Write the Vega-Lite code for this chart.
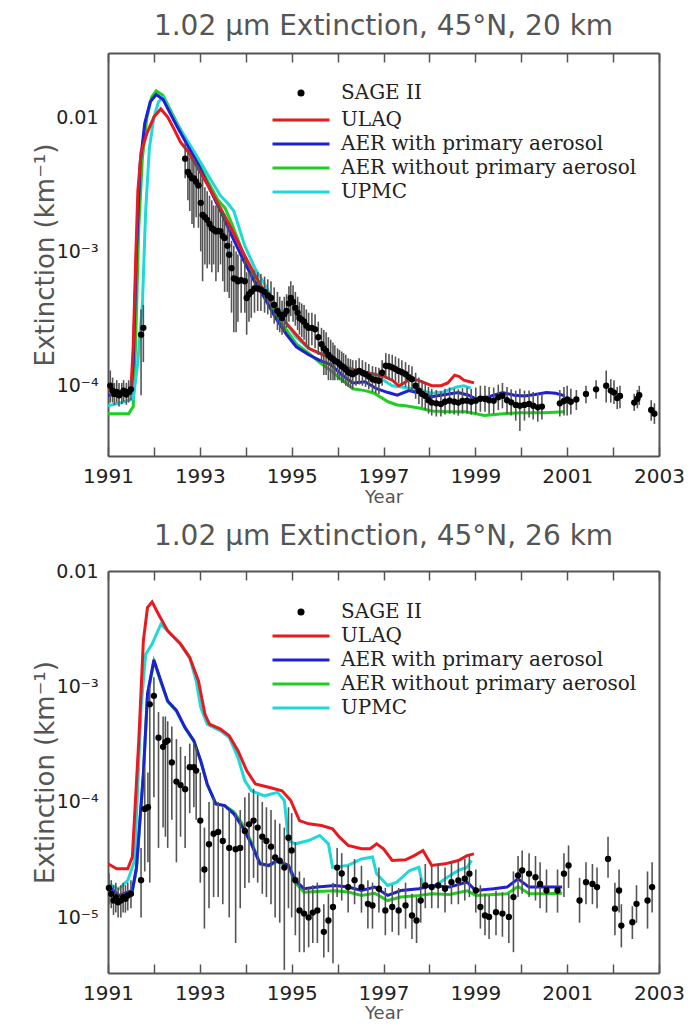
{
"$schema": "https://vega.github.io/schema/vega-lite/v6.json",
"padding": {"left": 32, "top": 13, "right": 4, "bottom": 0},
"spacing": 17,
"datasets": {
"s20": [
{"s":"SAGE II","t":1991.05,"v":1.0e-4,"lo":7.5e-5,"hi":1.3e-4},
{"s":"SAGE II","t":1991.10,"v":9.2e-5,"lo":7.5e-5,"hi":1.15e-4},
{"s":"SAGE II","t":1991.14,"v":8.7e-5,"lo":7.2e-5,"hi":1.05e-4},
{"s":"SAGE II","t":1991.19,"v":9.0e-5,"lo":7.5e-5,"hi":1.1e-4},
{"s":"SAGE II","t":1991.24,"v":8.5e-5,"lo":7.0e-5,"hi":1.05e-4},
{"s":"SAGE II","t":1991.30,"v":8.8e-5,"lo":7.3e-5,"hi":1.05e-4},
{"s":"SAGE II","t":1991.34,"v":9.2e-5,"lo":7.6e-5,"hi":1.1e-4},
{"s":"SAGE II","t":1991.40,"v":8.6e-5,"lo":7.2e-5,"hi":1.05e-4},
{"s":"SAGE II","t":1991.45,"v":9.0e-5,"lo":7.5e-5,"hi":1.1e-4},
{"s":"SAGE II","t":1991.50,"v":9.4e-5,"lo":7.8e-5,"hi":1.12e-4},
{"s":"SAGE II","t":1991.72,"v":2.4e-4,"lo":8.5e-5,"hi":3.7e-4},
{"s":"SAGE II","t":1991.77,"v":2.7e-4,"lo":1.5e-4,"hi":4.0e-4},
{"s":"SAGE II","t":1992.68,"v":4.9e-3,"lo":3.5e-3,"hi":6.5e-3},
{"s":"SAGE II","t":1992.74,"v":3.9e-3,"lo":2.4e-3,"hi":5.5e-3},
{"s":"SAGE II","t":1992.78,"v":3.7e-3,"lo":2.0e-3,"hi":5.0e-3},
{"s":"SAGE II","t":1992.83,"v":3.5e-3,"lo":1.6e-3,"hi":5.0e-3},
{"s":"SAGE II","t":1992.87,"v":3.5e-3,"lo":1.5e-3,"hi":4.8e-3},
{"s":"SAGE II","t":1992.92,"v":3.3e-3,"lo":1.8e-3,"hi":4.5e-3},
{"s":"SAGE II","t":1992.97,"v":3.1e-3,"lo":1.5e-3,"hi":4.3e-3},
{"s":"SAGE II","t":1993.02,"v":2.3e-3,"lo":1.0e-3,"hi":3.8e-3},
{"s":"SAGE II","t":1993.06,"v":1.87e-3,"lo":6.0e-4,"hi":3.5e-3},
{"s":"SAGE II","t":1993.11,"v":1.8e-3,"lo":8.0e-4,"hi":3.0e-3},
{"s":"SAGE II","t":1993.16,"v":1.72e-3,"lo":7.5e-4,"hi":2.8e-3},
{"s":"SAGE II","t":1993.21,"v":1.6e-3,"lo":8.0e-4,"hi":2.6e-3},
{"s":"SAGE II","t":1993.26,"v":1.49e-3,"lo":7.0e-4,"hi":2.4e-3},
{"s":"SAGE II","t":1993.30,"v":1.45e-3,"lo":8.0e-4,"hi":2.2e-3},
{"s":"SAGE II","t":1993.35,"v":1.41e-3,"lo":6.0e-4,"hi":2.2e-3},
{"s":"SAGE II","t":1993.40,"v":1.42e-3,"lo":7.0e-4,"hi":2.2e-3},
{"s":"SAGE II","t":1993.45,"v":1.41e-3,"lo":8.0e-4,"hi":2.0e-3},
{"s":"SAGE II","t":1993.50,"v":1.3e-3,"lo":6.0e-4,"hi":2.0e-3},
{"s":"SAGE II","t":1993.54,"v":1.26e-3,"lo":5.0e-4,"hi":1.9e-3},
{"s":"SAGE II","t":1993.60,"v":1.1e-3,"lo":5.0e-4,"hi":1.6e-3},
{"s":"SAGE II","t":1993.64,"v":9.45e-4,"lo":4.5e-4,"hi":1.5e-3},
{"s":"SAGE II","t":1993.69,"v":7.5e-4,"lo":3.5e-4,"hi":1.2e-3},
{"s":"SAGE II","t":1993.74,"v":6.3e-4,"lo":2.5e-4,"hi":1.1e-3},
{"s":"SAGE II","t":1993.79,"v":6.2e-4,"lo":2.5e-4,"hi":1.0e-3},
{"s":"SAGE II","t":1993.83,"v":6.0e-4,"lo":3.0e-4,"hi":9.5e-4},
{"s":"SAGE II","t":1993.90,"v":6.1e-4,"lo":3.5e-4,"hi":9.0e-4},
{"s":"SAGE II","t":1993.98,"v":6.0e-4,"lo":3.5e-4,"hi":9.0e-4},
{"s":"SAGE II","t":1994.02,"v":4.5e-4,"lo":2.4e-4,"hi":7.0e-4},
{"s":"SAGE II","t":1994.07,"v":4.8e-4,"lo":3.0e-4,"hi":7.0e-4},
{"s":"SAGE II","t":1994.12,"v":5.0e-4,"lo":3.2e-4,"hi":7.0e-4},
{"s":"SAGE II","t":1994.19,"v":5.3e-4,"lo":3.5e-4,"hi":7.2e-4},
{"s":"SAGE II","t":1994.26,"v":5.3e-4,"lo":3.6e-4,"hi":7.0e-4},
{"s":"SAGE II","t":1994.33,"v":5.2e-4,"lo":3.6e-4,"hi":6.8e-4},
{"s":"SAGE II","t":1994.41,"v":5.0e-4,"lo":3.5e-4,"hi":6.5e-4},
{"s":"SAGE II","t":1994.48,"v":4.7e-4,"lo":3.4e-4,"hi":6.2e-4},
{"s":"SAGE II","t":1994.55,"v":4.5e-4,"lo":3.2e-4,"hi":6.0e-4},
{"s":"SAGE II","t":1994.62,"v":4.0e-4,"lo":2.9e-4,"hi":5.4e-4},
{"s":"SAGE II","t":1994.69,"v":3.6e-4,"lo":2.6e-4,"hi":5.0e-4},
{"s":"SAGE II","t":1994.74,"v":3.4e-4,"lo":2.5e-4,"hi":4.6e-4},
{"s":"SAGE II","t":1994.79,"v":3.2e-4,"lo":2.4e-4,"hi":4.3e-4},
{"s":"SAGE II","t":1994.84,"v":3.4e-4,"lo":2.5e-4,"hi":4.6e-4},
{"s":"SAGE II","t":1994.89,"v":3.6e-4,"lo":2.7e-4,"hi":4.8e-4},
{"s":"SAGE II","t":1994.94,"v":4.1e-4,"lo":3.0e-4,"hi":5.5e-4},
{"s":"SAGE II","t":1994.98,"v":4.5e-4,"lo":3.3e-4,"hi":6.0e-4},
{"s":"SAGE II","t":1995.03,"v":4.2e-4,"lo":3.0e-4,"hi":5.6e-4},
{"s":"SAGE II","t":1995.08,"v":3.8e-4,"lo":2.8e-4,"hi":5.0e-4},
{"s":"SAGE II","t":1995.13,"v":3.5e-4,"lo":2.6e-4,"hi":4.6e-4},
{"s":"SAGE II","t":1995.17,"v":3.2e-4,"lo":2.4e-4,"hi":4.2e-4},
{"s":"SAGE II","t":1995.22,"v":3.1e-4,"lo":2.3e-4,"hi":4.1e-4},
{"s":"SAGE II","t":1995.27,"v":3.0e-4,"lo":2.2e-4,"hi":4.0e-4},
{"s":"SAGE II","t":1995.32,"v":2.8e-4,"lo":2.0e-4,"hi":3.7e-4},
{"s":"SAGE II","t":1995.37,"v":2.7e-4,"lo":1.9e-4,"hi":3.5e-4},
{"s":"SAGE II","t":1995.44,"v":2.7e-4,"lo":2.0e-4,"hi":3.5e-4},
{"s":"SAGE II","t":1995.51,"v":2.63e-4,"lo":1.9e-4,"hi":3.4e-4},
{"s":"SAGE II","t":1995.58,"v":2.3e-4,"lo":1.7e-4,"hi":3.0e-4},
{"s":"SAGE II","t":1995.65,"v":2.04e-4,"lo":1.5e-4,"hi":2.7e-4},
{"s":"SAGE II","t":1995.70,"v":1.9e-4,"lo":1.2e-4,"hi":2.6e-4},
{"s":"SAGE II","t":1995.75,"v":1.82e-4,"lo":1.2e-4,"hi":2.5e-4},
{"s":"SAGE II","t":1995.80,"v":1.7e-4,"lo":1.1e-4,"hi":2.3e-4},
{"s":"SAGE II","t":1995.85,"v":1.62e-4,"lo":1.1e-4,"hi":2.2e-4},
{"s":"SAGE II","t":1995.90,"v":1.58e-4,"lo":1.1e-4,"hi":2.1e-4},
{"s":"SAGE II","t":1995.94,"v":1.53e-4,"lo":1.1e-4,"hi":2.0e-4},
{"s":"SAGE II","t":1996.00,"v":1.5e-4,"lo":1.1e-4,"hi":1.9e-4},
{"s":"SAGE II","t":1996.04,"v":1.45e-4,"lo":1.1e-4,"hi":1.85e-4},
{"s":"SAGE II","t":1996.09,"v":1.4e-4,"lo":1.05e-4,"hi":1.8e-4},
{"s":"SAGE II","t":1996.13,"v":1.37e-4,"lo":1.05e-4,"hi":1.75e-4},
{"s":"SAGE II","t":1996.18,"v":1.32e-4,"lo":1.0e-4,"hi":1.7e-4},
{"s":"SAGE II","t":1996.23,"v":1.26e-4,"lo":9.8e-5,"hi":1.6e-4},
{"s":"SAGE II","t":1996.28,"v":1.24e-4,"lo":9.6e-5,"hi":1.58e-4},
{"s":"SAGE II","t":1996.33,"v":1.22e-4,"lo":9.5e-5,"hi":1.55e-4},
{"s":"SAGE II","t":1996.40,"v":1.26e-4,"lo":1.0e-4,"hi":1.55e-4},
{"s":"SAGE II","t":1996.47,"v":1.29e-4,"lo":1.02e-4,"hi":1.6e-4},
{"s":"SAGE II","t":1996.54,"v":1.25e-4,"lo":1.0e-4,"hi":1.55e-4},
{"s":"SAGE II","t":1996.61,"v":1.22e-4,"lo":9.8e-5,"hi":1.5e-4},
{"s":"SAGE II","t":1996.68,"v":1.17e-4,"lo":9.4e-5,"hi":1.45e-4},
{"s":"SAGE II","t":1996.76,"v":1.12e-4,"lo":9.0e-5,"hi":1.4e-4},
{"s":"SAGE II","t":1996.83,"v":1.1e-4,"lo":8.8e-5,"hi":1.38e-4},
{"s":"SAGE II","t":1996.90,"v":1.09e-4,"lo":8.7e-5,"hi":1.36e-4},
{"s":"SAGE II","t":1996.97,"v":1.25e-4,"lo":1.0e-4,"hi":1.55e-4},
{"s":"SAGE II","t":1997.05,"v":1.41e-4,"lo":1.13e-4,"hi":1.75e-4},
{"s":"SAGE II","t":1997.12,"v":1.4e-4,"lo":1.12e-4,"hi":1.72e-4},
{"s":"SAGE II","t":1997.19,"v":1.37e-4,"lo":1.1e-4,"hi":1.7e-4},
{"s":"SAGE II","t":1997.26,"v":1.33e-4,"lo":1.07e-4,"hi":1.65e-4},
{"s":"SAGE II","t":1997.33,"v":1.29e-4,"lo":1.04e-4,"hi":1.6e-4},
{"s":"SAGE II","t":1997.40,"v":1.26e-4,"lo":1.0e-4,"hi":1.55e-4},
{"s":"SAGE II","t":1997.48,"v":1.22e-4,"lo":9.8e-5,"hi":1.5e-4},
{"s":"SAGE II","t":1997.55,"v":1.16e-4,"lo":9.3e-5,"hi":1.43e-4},
{"s":"SAGE II","t":1997.62,"v":1.12e-4,"lo":9.0e-5,"hi":1.4e-4},
{"s":"SAGE II","t":1997.70,"v":1.0e-4,"lo":8.0e-5,"hi":1.25e-4},
{"s":"SAGE II","t":1997.77,"v":9.2e-5,"lo":7.3e-5,"hi":1.15e-4},
{"s":"SAGE II","t":1997.84,"v":8.7e-5,"lo":6.9e-5,"hi":1.1e-4},
{"s":"SAGE II","t":1997.91,"v":8.4e-5,"lo":6.6e-5,"hi":1.05e-4},
{"s":"SAGE II","t":1997.98,"v":7.8e-5,"lo":6.2e-5,"hi":9.8e-5},
{"s":"SAGE II","t":1998.05,"v":7.5e-5,"lo":6.0e-5,"hi":9.5e-5},
{"s":"SAGE II","t":1998.15,"v":7.4e-5,"lo":5.9e-5,"hi":9.3e-5},
{"s":"SAGE II","t":1998.25,"v":7.3e-5,"lo":5.9e-5,"hi":9.1e-5},
{"s":"SAGE II","t":1998.34,"v":7.6e-5,"lo":6.1e-5,"hi":9.5e-5},
{"s":"SAGE II","t":1998.44,"v":7.75e-5,"lo":6.2e-5,"hi":9.7e-5},
{"s":"SAGE II","t":1998.54,"v":7.6e-5,"lo":6.1e-5,"hi":9.5e-5},
{"s":"SAGE II","t":1998.63,"v":7.5e-5,"lo":6.0e-5,"hi":9.4e-5},
{"s":"SAGE II","t":1998.72,"v":7.7e-5,"lo":6.2e-5,"hi":9.6e-5},
{"s":"SAGE II","t":1998.82,"v":7.75e-5,"lo":6.2e-5,"hi":9.7e-5},
{"s":"SAGE II","t":1998.91,"v":7.6e-5,"lo":6.1e-5,"hi":9.5e-5},
{"s":"SAGE II","t":1999.01,"v":7.75e-5,"lo":6.2e-5,"hi":9.7e-5},
{"s":"SAGE II","t":1999.11,"v":8.0e-5,"lo":6.4e-5,"hi":1.0e-4},
{"s":"SAGE II","t":1999.21,"v":7.97e-5,"lo":6.4e-5,"hi":1.0e-4},
{"s":"SAGE II","t":1999.30,"v":7.8e-5,"lo":6.2e-5,"hi":9.8e-5},
{"s":"SAGE II","t":1999.40,"v":7.75e-5,"lo":6.2e-5,"hi":9.7e-5},
{"s":"SAGE II","t":1999.50,"v":8.2e-5,"lo":6.6e-5,"hi":1.02e-4},
{"s":"SAGE II","t":1999.59,"v":8.43e-5,"lo":6.8e-5,"hi":1.05e-4},
{"s":"SAGE II","t":1999.69,"v":7.8e-5,"lo":6.2e-5,"hi":9.8e-5},
{"s":"SAGE II","t":1999.78,"v":7.53e-5,"lo":6.0e-5,"hi":9.4e-5},
{"s":"SAGE II","t":1999.88,"v":7.2e-5,"lo":5.5e-5,"hi":9.2e-5},
{"s":"SAGE II","t":1999.97,"v":7.11e-5,"lo":4.6e-5,"hi":9.5e-5},
{"s":"SAGE II","t":2000.07,"v":7.2e-5,"lo":5.5e-5,"hi":9.2e-5},
{"s":"SAGE II","t":2000.17,"v":7.32e-5,"lo":5.8e-5,"hi":9.2e-5},
{"s":"SAGE II","t":2000.26,"v":7.1e-5,"lo":5.6e-5,"hi":9.0e-5},
{"s":"SAGE II","t":2000.36,"v":6.91e-5,"lo":5.4e-5,"hi":8.8e-5},
{"s":"SAGE II","t":2000.45,"v":7.0e-5,"lo":5.6e-5,"hi":8.8e-5},
{"s":"SAGE II","t":2000.84,"v":7.4e-5,"lo":5.9e-5,"hi":9.3e-5},
{"s":"SAGE II","t":2000.93,"v":7.7e-5,"lo":6.0e-5,"hi":9.8e-5},
{"s":"SAGE II","t":2001.00,"v":7.9e-5,"lo":6.0e-5,"hi":1.0e-4},
{"s":"SAGE II","t":2001.08,"v":7.6e-5,"lo":6.1e-5,"hi":9.5e-5},
{"s":"SAGE II","t":2001.20,"v":7.9e-5,"lo":6.6e-5,"hi":9.3e-5},
{"s":"SAGE II","t":2001.41,"v":8.7e-5,"lo":7.4e-5,"hi":1.0e-4},
{"s":"SAGE II","t":2001.63,"v":9.4e-5,"lo":8.0e-5,"hi":1.1e-4},
{"s":"SAGE II","t":2001.85,"v":1.0e-4,"lo":7.5e-5,"hi":1.3e-4},
{"s":"SAGE II","t":2001.95,"v":9.2e-5,"lo":7.5e-5,"hi":1.12e-4},
{"s":"SAGE II","t":2002.02,"v":8.9e-5,"lo":7.3e-5,"hi":1.1e-4},
{"s":"SAGE II","t":2002.09,"v":8.1e-5,"lo":6.7e-5,"hi":9.8e-5},
{"s":"SAGE II","t":2002.15,"v":8.4e-5,"lo":6.8e-5,"hi":1.0e-4},
{"s":"SAGE II","t":2002.46,"v":7.5e-5,"lo":6.5e-5,"hi":8.7e-5},
{"s":"SAGE II","t":2002.53,"v":8.0e-5,"lo":6.8e-5,"hi":9.3e-5},
{"s":"SAGE II","t":2002.57,"v":8.5e-5,"lo":7.2e-5,"hi":1.0e-4},
{"s":"SAGE II","t":2002.83,"v":6.6e-5,"lo":5.5e-5,"hi":7.8e-5},
{"s":"SAGE II","t":2002.90,"v":6.2e-5,"lo":5.2e-5,"hi":7.4e-5}
],
"m20": [
{"s":"AER without primary aerosol","t":1991.0,"v":6.2e-5},
{"s":"AER without primary aerosol","t":1991.45,"v":6.2e-5},
{"s":"AER without primary aerosol","t":1991.55,"v":7.0e-5},
{"s":"AER without primary aerosol","t":1991.6,"v":2.0e-4},
{"s":"AER without primary aerosol","t":1991.67,"v":1.5e-3},
{"s":"AER without primary aerosol","t":1991.75,"v":5.0e-3},
{"s":"AER without primary aerosol","t":1991.85,"v":1.0e-2},
{"s":"AER without primary aerosol","t":1991.95,"v":1.4e-2},
{"s":"AER without primary aerosol","t":1992.05,"v":1.57e-2},
{"s":"AER without primary aerosol","t":1992.2,"v":1.45e-2},
{"s":"AER without primary aerosol","t":1992.49,"v":9.2e-3},
{"s":"AER without primary aerosol","t":1992.75,"v":6.3e-3},
{"s":"AER without primary aerosol","t":1992.97,"v":4.6e-3},
{"s":"AER without primary aerosol","t":1993.2,"v":3.2e-3},
{"s":"AER without primary aerosol","t":1993.4,"v":2.4e-3},
{"s":"AER without primary aerosol","t":1993.55,"v":2.1e-3},
{"s":"AER without primary aerosol","t":1993.7,"v":1.6e-3},
{"s":"AER without primary aerosol","t":1993.93,"v":1.0e-3},
{"s":"AER without primary aerosol","t":1994.15,"v":6.8e-4},
{"s":"AER without primary aerosol","t":1994.41,"v":4.8e-4},
{"s":"AER without primary aerosol","t":1994.65,"v":3.4e-4},
{"s":"AER without primary aerosol","t":1994.89,"v":2.6e-4},
{"s":"AER without primary aerosol","t":1995.1,"v":2.05e-4},
{"s":"AER without primary aerosol","t":1995.37,"v":1.75e-4},
{"s":"AER without primary aerosol","t":1995.6,"v":1.5e-4},
{"s":"AER without primary aerosol","t":1995.85,"v":1.3e-4},
{"s":"AER without primary aerosol","t":1996.1,"v":1.1e-4},
{"s":"AER without primary aerosol","t":1996.33,"v":9.5e-5},
{"s":"AER without primary aerosol","t":1996.6,"v":9.2e-5},
{"s":"AER without primary aerosol","t":1996.8,"v":8.8e-5},
{"s":"AER without primary aerosol","t":1997.1,"v":7.6e-5},
{"s":"AER without primary aerosol","t":1997.3,"v":7.2e-5},
{"s":"AER without primary aerosol","t":1997.48,"v":7.1e-5},
{"s":"AER without primary aerosol","t":1997.8,"v":6.8e-5},
{"s":"AER without primary aerosol","t":1998.05,"v":6.5e-5},
{"s":"AER without primary aerosol","t":1998.4,"v":6.4e-5},
{"s":"AER without primary aerosol","t":1998.8,"v":6.4e-5},
{"s":"AER without primary aerosol","t":1999.2,"v":6.0e-5},
{"s":"AER without primary aerosol","t":1999.6,"v":6.2e-5},
{"s":"AER without primary aerosol","t":2000.0,"v":6.3e-5},
{"s":"AER without primary aerosol","t":2000.5,"v":6.3e-5},
{"s":"AER without primary aerosol","t":2000.95,"v":6.4e-5},
{"s":"UPMC","t":1991.0,"v":7.1e-5},
{"s":"UPMC","t":1991.3,"v":7.5e-5},
{"s":"UPMC","t":1991.55,"v":8.0e-5},
{"s":"UPMC","t":1991.65,"v":1.5e-4},
{"s":"UPMC","t":1991.75,"v":4.1e-4},
{"s":"UPMC","t":1991.82,"v":2.0e-3},
{"s":"UPMC","t":1991.9,"v":5.8e-3},
{"s":"UPMC","t":1992.0,"v":1.0e-2},
{"s":"UPMC","t":1992.1,"v":1.3e-2},
{"s":"UPMC","t":1992.2,"v":1.4e-2},
{"s":"UPMC","t":1992.45,"v":9.5e-3},
{"s":"UPMC","t":1992.75,"v":6.5e-3},
{"s":"UPMC","t":1992.97,"v":4.9e-3},
{"s":"UPMC","t":1993.2,"v":3.6e-3},
{"s":"UPMC","t":1993.45,"v":2.6e-3},
{"s":"UPMC","t":1993.6,"v":2.3e-3},
{"s":"UPMC","t":1993.74,"v":2.0e-3},
{"s":"UPMC","t":1993.98,"v":1.1e-3},
{"s":"UPMC","t":1994.2,"v":7.5e-4},
{"s":"UPMC","t":1994.41,"v":5.7e-4},
{"s":"UPMC","t":1994.65,"v":4.0e-4},
{"s":"UPMC","t":1994.89,"v":2.9e-4},
{"s":"UPMC","t":1995.1,"v":2.3e-4},
{"s":"UPMC","t":1995.37,"v":1.9e-4},
{"s":"UPMC","t":1995.6,"v":1.75e-4},
{"s":"UPMC","t":1995.85,"v":1.7e-4},
{"s":"UPMC","t":1996.1,"v":1.45e-4},
{"s":"UPMC","t":1996.33,"v":1.3e-4},
{"s":"UPMC","t":1996.6,"v":1.25e-4},
{"s":"UPMC","t":1996.8,"v":1.22e-4},
{"s":"UPMC","t":1997.19,"v":1.0e-4},
{"s":"UPMC","t":1997.4,"v":9.8e-5},
{"s":"UPMC","t":1997.62,"v":9.5e-5},
{"s":"UPMC","t":1997.85,"v":9.2e-5},
{"s":"UPMC","t":1998.05,"v":8.8e-5},
{"s":"UPMC","t":1998.3,"v":9.0e-5},
{"s":"UPMC","t":1998.6,"v":9.8e-5},
{"s":"UPMC","t":1998.75,"v":1.0e-4},
{"s":"UPMC","t":1998.9,"v":9.6e-5},
{"s":"AER with primary aerosol","t":1991.0,"v":8.5e-5},
{"s":"AER with primary aerosol","t":1991.3,"v":8.7e-5},
{"s":"AER with primary aerosol","t":1991.5,"v":8.8e-5},
{"s":"AER with primary aerosol","t":1991.55,"v":1.5e-4},
{"s":"AER with primary aerosol","t":1991.62,"v":1.0e-3},
{"s":"AER with primary aerosol","t":1991.7,"v":4.5e-3},
{"s":"AER with primary aerosol","t":1991.8,"v":9.0e-3},
{"s":"AER with primary aerosol","t":1991.92,"v":1.3e-2},
{"s":"AER with primary aerosol","t":1992.05,"v":1.47e-2},
{"s":"AER with primary aerosol","t":1992.2,"v":1.35e-2},
{"s":"AER with primary aerosol","t":1992.49,"v":8.7e-3},
{"s":"AER with primary aerosol","t":1992.75,"v":6.0e-3},
{"s":"AER with primary aerosol","t":1992.97,"v":4.4e-3},
{"s":"AER with primary aerosol","t":1993.2,"v":3.0e-3},
{"s":"AER with primary aerosol","t":1993.45,"v":2.0e-3},
{"s":"AER with primary aerosol","t":1993.7,"v":1.3e-3},
{"s":"AER with primary aerosol","t":1993.93,"v":8.9e-4},
{"s":"AER with primary aerosol","t":1994.15,"v":6.3e-4},
{"s":"AER with primary aerosol","t":1994.41,"v":4.5e-4},
{"s":"AER with primary aerosol","t":1994.65,"v":3.2e-4},
{"s":"AER with primary aerosol","t":1994.89,"v":2.4e-4},
{"s":"AER with primary aerosol","t":1995.1,"v":1.95e-4},
{"s":"AER with primary aerosol","t":1995.37,"v":1.7e-4},
{"s":"AER with primary aerosol","t":1995.6,"v":1.55e-4},
{"s":"AER with primary aerosol","t":1995.85,"v":1.44e-4},
{"s":"AER with primary aerosol","t":1996.1,"v":1.2e-4},
{"s":"AER with primary aerosol","t":1996.33,"v":1.05e-4},
{"s":"AER with primary aerosol","t":1996.6,"v":1.07e-4},
{"s":"AER with primary aerosol","t":1996.85,"v":9.5e-5},
{"s":"AER with primary aerosol","t":1997.1,"v":8.9e-5},
{"s":"AER with primary aerosol","t":1997.3,"v":8.5e-5},
{"s":"AER with primary aerosol","t":1997.55,"v":9.2e-5},
{"s":"AER with primary aerosol","t":1997.8,"v":8.8e-5},
{"s":"AER with primary aerosol","t":1998.05,"v":8.3e-5},
{"s":"AER with primary aerosol","t":1998.35,"v":8.6e-5},
{"s":"AER with primary aerosol","t":1998.63,"v":8.9e-5},
{"s":"AER with primary aerosol","t":1998.85,"v":8.5e-5},
{"s":"AER with primary aerosol","t":1999.01,"v":8.0e-5},
{"s":"AER with primary aerosol","t":1999.3,"v":8.3e-5},
{"s":"AER with primary aerosol","t":1999.59,"v":8.9e-5},
{"s":"AER with primary aerosol","t":1999.85,"v":8.5e-5},
{"s":"AER with primary aerosol","t":2000.07,"v":8.4e-5},
{"s":"AER with primary aerosol","t":2000.3,"v":8.6e-5},
{"s":"AER with primary aerosol","t":2000.55,"v":8.9e-5},
{"s":"AER with primary aerosol","t":2000.75,"v":8.8e-5},
{"s":"AER with primary aerosol","t":2000.95,"v":8.4e-5},
{"s":"ULAQ","t":1991.0,"v":9.5e-5},
{"s":"ULAQ","t":1991.25,"v":9.0e-5},
{"s":"ULAQ","t":1991.5,"v":9.2e-5},
{"s":"ULAQ","t":1991.55,"v":2.0e-4},
{"s":"ULAQ","t":1991.6,"v":8.0e-4},
{"s":"ULAQ","t":1991.65,"v":2.8e-3},
{"s":"ULAQ","t":1991.72,"v":5.5e-3},
{"s":"ULAQ","t":1991.85,"v":7.6e-3},
{"s":"ULAQ","t":1992.0,"v":1.0e-2},
{"s":"ULAQ","t":1992.15,"v":1.15e-2},
{"s":"ULAQ","t":1992.3,"v":1.0e-2},
{"s":"ULAQ","t":1992.45,"v":8.0e-3},
{"s":"ULAQ","t":1992.58,"v":6.5e-3},
{"s":"ULAQ","t":1992.75,"v":5.5e-3},
{"s":"ULAQ","t":1992.97,"v":4.1e-3},
{"s":"ULAQ","t":1993.2,"v":3.0e-3},
{"s":"ULAQ","t":1993.45,"v":2.1e-3},
{"s":"ULAQ","t":1993.7,"v":1.45e-3},
{"s":"ULAQ","t":1993.93,"v":1.0e-3},
{"s":"ULAQ","t":1994.15,"v":7.2e-4},
{"s":"ULAQ","t":1994.41,"v":5.0e-4},
{"s":"ULAQ","t":1994.65,"v":3.7e-4},
{"s":"ULAQ","t":1994.89,"v":2.9e-4},
{"s":"ULAQ","t":1995.15,"v":2.3e-4},
{"s":"ULAQ","t":1995.37,"v":1.9e-4},
{"s":"ULAQ","t":1995.6,"v":1.75e-4},
{"s":"ULAQ","t":1995.85,"v":1.6e-4},
{"s":"ULAQ","t":1996.1,"v":1.42e-4},
{"s":"ULAQ","t":1996.33,"v":1.32e-4},
{"s":"ULAQ","t":1996.6,"v":1.26e-4},
{"s":"ULAQ","t":1996.8,"v":1.22e-4},
{"s":"ULAQ","t":1997.0,"v":1.18e-4},
{"s":"ULAQ","t":1997.19,"v":1.1e-4},
{"s":"ULAQ","t":1997.33,"v":1.0e-4},
{"s":"ULAQ","t":1997.45,"v":1.05e-4},
{"s":"ULAQ","t":1997.57,"v":1.12e-4},
{"s":"ULAQ","t":1997.75,"v":1.1e-4},
{"s":"ULAQ","t":1997.9,"v":1.05e-4},
{"s":"ULAQ","t":1998.05,"v":1.0e-4},
{"s":"ULAQ","t":1998.25,"v":1.0e-4},
{"s":"ULAQ","t":1998.4,"v":1.05e-4},
{"s":"ULAQ","t":1998.55,"v":1.2e-4},
{"s":"ULAQ","t":1998.65,"v":1.17e-4},
{"s":"ULAQ","t":1998.75,"v":1.1e-4},
{"s":"ULAQ","t":1998.97,"v":1.05e-4}
],
"s26": [
{"s":"SAGE II","t":1991.02,"v":1.8e-5,"lo":1.3e-5,"hi":2.4e-5},
{"s":"SAGE II","t":1991.07,"v":1.6e-5,"lo":1.2e-5,"hi":2.1e-5},
{"s":"SAGE II","t":1991.12,"v":1.4e-5,"lo":1.05e-5,"hi":1.9e-5},
{"s":"SAGE II","t":1991.17,"v":1.5e-5,"lo":1.1e-5,"hi":2.0e-5},
{"s":"SAGE II","t":1991.22,"v":1.35e-5,"lo":1.0e-5,"hi":1.8e-5},
{"s":"SAGE II","t":1991.28,"v":1.4e-5,"lo":1.0e-5,"hi":1.9e-5},
{"s":"SAGE II","t":1991.33,"v":1.5e-5,"lo":1.1e-5,"hi":2.0e-5},
{"s":"SAGE II","t":1991.38,"v":1.45e-5,"lo":1.1e-5,"hi":1.9e-5},
{"s":"SAGE II","t":1991.43,"v":1.55e-5,"lo":1.15e-5,"hi":2.0e-5},
{"s":"SAGE II","t":1991.50,"v":1.6e-5,"lo":1.2e-5,"hi":2.1e-5},
{"s":"SAGE II","t":1991.72,"v":2.1e-5,"lo":1.0e-5,"hi":4.0e-5},
{"s":"SAGE II","t":1991.80,"v":8.7e-5,"lo":2.5e-5,"hi":2.0e-4},
{"s":"SAGE II","t":1991.87,"v":9.0e-5,"lo":3.0e-5,"hi":1.8e-4},
{"s":"SAGE II","t":1991.91,"v":7.0e-4,"lo":2.0e-5,"hi":1.0e-3},
{"s":"SAGE II","t":1992.00,"v":8.3e-4,"lo":1.1e-4,"hi":1.2e-3},
{"s":"SAGE II","t":1992.10,"v":3.6e-4,"lo":4.0e-5,"hi":6.0e-4},
{"s":"SAGE II","t":1992.20,"v":3.0e-4,"lo":6.0e-5,"hi":5.5e-4},
{"s":"SAGE II","t":1992.25,"v":3.3e-4,"lo":5.0e-5,"hi":5.5e-4},
{"s":"SAGE II","t":1992.30,"v":3.4e-4,"lo":4.0e-5,"hi":5.0e-4},
{"s":"SAGE II","t":1992.39,"v":2.2e-4,"lo":7.0e-5,"hi":4.5e-4},
{"s":"SAGE II","t":1992.49,"v":1.5e-4,"lo":3.0e-5,"hi":3.5e-4},
{"s":"SAGE II","t":1992.58,"v":1.4e-4,"lo":5.0e-5,"hi":3.0e-4},
{"s":"SAGE II","t":1992.68,"v":1.29e-4,"lo":4.0e-5,"hi":2.5e-4},
{"s":"SAGE II","t":1992.78,"v":2.0e-4,"lo":8.0e-5,"hi":3.2e-4},
{"s":"SAGE II","t":1992.87,"v":2.0e-4,"lo":9.0e-5,"hi":3.2e-4},
{"s":"SAGE II","t":1992.92,"v":1.87e-4,"lo":7.0e-5,"hi":3.0e-4},
{"s":"SAGE II","t":1993.01,"v":6.9e-5,"lo":2.0e-5,"hi":1.8e-4},
{"s":"SAGE II","t":1993.10,"v":2.6e-5,"lo":8.0e-6,"hi":6.0e-5},
{"s":"SAGE II","t":1993.20,"v":4.3e-5,"lo":1.2e-5,"hi":1.0e-4},
{"s":"SAGE II","t":1993.30,"v":5.3e-5,"lo":1.5e-5,"hi":1.1e-4},
{"s":"SAGE II","t":1993.40,"v":5.5e-5,"lo":1.5e-5,"hi":1.0e-4},
{"s":"SAGE II","t":1993.50,"v":4.6e-5,"lo":1.3e-5,"hi":9.0e-5},
{"s":"SAGE II","t":1993.64,"v":4.0e-5,"lo":1.0e-5,"hi":8.5e-5},
{"s":"SAGE II","t":1993.78,"v":3.9e-5,"lo":6.0e-6,"hi":8.0e-5},
{"s":"SAGE II","t":1993.88,"v":4.0e-5,"lo":1.2e-5,"hi":8.5e-5},
{"s":"SAGE II","t":1993.98,"v":5.6e-5,"lo":1.8e-5,"hi":1.1e-4},
{"s":"SAGE II","t":1994.07,"v":6.4e-5,"lo":2.0e-5,"hi":1.2e-4},
{"s":"SAGE II","t":1994.17,"v":6.9e-5,"lo":2.2e-5,"hi":1.3e-4},
{"s":"SAGE II","t":1994.26,"v":6.0e-5,"lo":2.0e-5,"hi":1.15e-4},
{"s":"SAGE II","t":1994.36,"v":5.0e-5,"lo":1.6e-5,"hi":1.0e-4},
{"s":"SAGE II","t":1994.45,"v":4.6e-5,"lo":1.5e-5,"hi":9.0e-5},
{"s":"SAGE II","t":1994.55,"v":4.1e-5,"lo":1.3e-5,"hi":8.5e-5},
{"s":"SAGE II","t":1994.64,"v":3.3e-5,"lo":1.0e-5,"hi":7.0e-5},
{"s":"SAGE II","t":1994.74,"v":3.1e-5,"lo":9.0e-6,"hi":6.5e-5},
{"s":"SAGE II","t":1994.84,"v":2.7e-5,"lo":3.5e-6,"hi":6.0e-5},
{"s":"SAGE II","t":1994.93,"v":4.9e-5,"lo":1.2e-5,"hi":9.0e-5},
{"s":"SAGE II","t":1995.00,"v":3.8e-5,"lo":1.0e-5,"hi":8.0e-5},
{"s":"SAGE II","t":1995.08,"v":2.1e-5,"lo":7.0e-6,"hi":4.5e-5},
{"s":"SAGE II","t":1995.17,"v":1.15e-5,"lo":5.0e-6,"hi":2.5e-5},
{"s":"SAGE II","t":1995.27,"v":1.08e-5,"lo":5.0e-6,"hi":2.2e-5},
{"s":"SAGE II","t":1995.37,"v":1.0e-5,"lo":5.5e-6,"hi":1.8e-5},
{"s":"SAGE II","t":1995.46,"v":1.1e-5,"lo":6.0e-6,"hi":1.9e-5},
{"s":"SAGE II","t":1995.56,"v":1.15e-5,"lo":6.0e-6,"hi":2.0e-5},
{"s":"SAGE II","t":1995.70,"v":7.5e-6,"lo":4.5e-6,"hi":1.3e-5},
{"s":"SAGE II","t":1995.80,"v":9.4e-6,"lo":5.0e-6,"hi":1.6e-5},
{"s":"SAGE II","t":1995.90,"v":1.23e-5,"lo":4.0e-6,"hi":2.0e-5},
{"s":"SAGE II","t":1995.99,"v":2.7e-5,"lo":1.5e-5,"hi":4.0e-5},
{"s":"SAGE II","t":1996.09,"v":2.4e-5,"lo":1.4e-5,"hi":3.6e-5},
{"s":"SAGE II","t":1996.23,"v":1.83e-5,"lo":1.1e-5,"hi":2.8e-5},
{"s":"SAGE II","t":1996.37,"v":2.1e-5,"lo":1.3e-5,"hi":3.2e-5},
{"s":"SAGE II","t":1996.52,"v":1.83e-5,"lo":1.1e-5,"hi":2.8e-5},
{"s":"SAGE II","t":1996.66,"v":1.31e-5,"lo":8.0e-6,"hi":2.1e-5},
{"s":"SAGE II","t":1996.76,"v":1.27e-5,"lo":8.0e-6,"hi":2.0e-5},
{"s":"SAGE II","t":1996.90,"v":1.77e-5,"lo":1.1e-5,"hi":2.7e-5},
{"s":"SAGE II","t":1997.04,"v":1.15e-5,"lo":7.0e-6,"hi":1.8e-5},
{"s":"SAGE II","t":1997.19,"v":1.23e-5,"lo":7.5e-6,"hi":1.9e-5},
{"s":"SAGE II","t":1997.33,"v":1.15e-5,"lo":7.0e-6,"hi":1.8e-5},
{"s":"SAGE II","t":1997.48,"v":1.27e-5,"lo":8.0e-6,"hi":2.0e-5},
{"s":"SAGE II","t":1997.62,"v":1.04e-5,"lo":6.5e-6,"hi":1.6e-5},
{"s":"SAGE II","t":1997.72,"v":9.4e-6,"lo":6.0e-6,"hi":1.5e-5},
{"s":"SAGE II","t":1997.81,"v":1.4e-5,"lo":9.0e-6,"hi":2.2e-5},
{"s":"SAGE II","t":1997.91,"v":1.89e-5,"lo":1.2e-5,"hi":2.9e-5},
{"s":"SAGE II","t":1998.05,"v":1.83e-5,"lo":1.2e-5,"hi":2.8e-5},
{"s":"SAGE II","t":1998.19,"v":1.89e-5,"lo":1.2e-5,"hi":2.9e-5},
{"s":"SAGE II","t":1998.34,"v":1.77e-5,"lo":1.1e-5,"hi":2.7e-5},
{"s":"SAGE II","t":1998.48,"v":2.02e-5,"lo":1.3e-5,"hi":3.0e-5},
{"s":"SAGE II","t":1998.63,"v":2.09e-5,"lo":1.3e-5,"hi":3.1e-5},
{"s":"SAGE II","t":1998.77,"v":2.16e-5,"lo":1.4e-5,"hi":3.2e-5},
{"s":"SAGE II","t":1998.87,"v":2.39e-5,"lo":1.5e-5,"hi":3.5e-5},
{"s":"SAGE II","t":1999.01,"v":1.71e-5,"lo":1.1e-5,"hi":2.6e-5},
{"s":"SAGE II","t":1999.11,"v":1.23e-5,"lo":8.0e-6,"hi":1.9e-5},
{"s":"SAGE II","t":1999.21,"v":1.04e-5,"lo":7.0e-6,"hi":1.6e-5},
{"s":"SAGE II","t":1999.30,"v":1.01e-5,"lo":6.5e-6,"hi":1.55e-5},
{"s":"SAGE II","t":1999.45,"v":1.11e-5,"lo":7.0e-6,"hi":1.7e-5},
{"s":"SAGE II","t":1999.59,"v":1.08e-5,"lo":6.8e-6,"hi":1.65e-5},
{"s":"SAGE II","t":1999.73,"v":1.01e-5,"lo":6.0e-6,"hi":1.6e-5},
{"s":"SAGE II","t":1999.83,"v":1.5e-5,"lo":5.0e-6,"hi":2.5e-5},
{"s":"SAGE II","t":1999.93,"v":2.31e-5,"lo":1.5e-5,"hi":3.4e-5},
{"s":"SAGE II","t":2000.02,"v":2.55e-5,"lo":1.6e-5,"hi":3.8e-5},
{"s":"SAGE II","t":2000.17,"v":2.39e-5,"lo":1.5e-5,"hi":3.6e-5},
{"s":"SAGE II","t":2000.31,"v":2.23e-5,"lo":1.4e-5,"hi":3.4e-5},
{"s":"SAGE II","t":2000.41,"v":1.95e-5,"lo":1.2e-5,"hi":3.0e-5},
{"s":"SAGE II","t":2000.55,"v":1.71e-5,"lo":1.1e-5,"hi":2.6e-5},
{"s":"SAGE II","t":2000.79,"v":1.71e-5,"lo":1.1e-5,"hi":2.6e-5},
{"s":"SAGE II","t":2000.93,"v":2.39e-5,"lo":1.5e-5,"hi":3.6e-5},
{"s":"SAGE II","t":2001.03,"v":2.82e-5,"lo":1.8e-5,"hi":4.2e-5},
{"s":"SAGE II","t":2001.27,"v":1.4e-5,"lo":9.0e-6,"hi":2.2e-5},
{"s":"SAGE II","t":2001.41,"v":2.02e-5,"lo":1.3e-5,"hi":3.0e-5},
{"s":"SAGE II","t":2001.55,"v":1.95e-5,"lo":1.3e-5,"hi":2.9e-5},
{"s":"SAGE II","t":2001.65,"v":1.83e-5,"lo":1.2e-5,"hi":2.7e-5},
{"s":"SAGE II","t":2001.89,"v":3.21e-5,"lo":2.2e-5,"hi":5.0e-5},
{"s":"SAGE II","t":2002.04,"v":1.19e-5,"lo":7.0e-6,"hi":2.0e-5},
{"s":"SAGE II","t":2002.13,"v":1.71e-5,"lo":1.1e-5,"hi":2.6e-5},
{"s":"SAGE II","t":2002.18,"v":8.5e-6,"lo":5.5e-6,"hi":1.3e-5},
{"s":"SAGE II","t":2002.42,"v":9.1e-6,"lo":6.5e-6,"hi":1.25e-5},
{"s":"SAGE II","t":2002.51,"v":1.31e-5,"lo":9.0e-6,"hi":1.9e-5},
{"s":"SAGE II","t":2002.75,"v":1.4e-5,"lo":8.0e-6,"hi":2.5e-5},
{"s":"SAGE II","t":2002.85,"v":1.83e-5,"lo":1.1e-5,"hi":3.0e-5}
],
"m26": [
{"s":"AER without primary aerosol","t":1991.0,"v":1.85e-5},
{"s":"AER without primary aerosol","t":1991.24,"v":1.52e-5},
{"s":"AER without primary aerosol","t":1991.53,"v":1.68e-5},
{"s":"AER without primary aerosol","t":1991.62,"v":2.6e-5},
{"s":"AER without primary aerosol","t":1991.77,"v":1.7e-4},
{"s":"AER without primary aerosol","t":1991.86,"v":8.4e-4},
{"s":"AER without primary aerosol","t":1992.0,"v":1.65e-3},
{"s":"AER without primary aerosol","t":1992.15,"v":1.1e-3},
{"s":"AER without primary aerosol","t":1992.3,"v":7.4e-4},
{"s":"AER without primary aerosol","t":1992.49,"v":6.1e-4},
{"s":"AER without primary aerosol","t":1992.68,"v":4.35e-4},
{"s":"AER without primary aerosol","t":1992.87,"v":3.35e-4},
{"s":"AER without primary aerosol","t":1993.02,"v":2.25e-4},
{"s":"AER without primary aerosol","t":1993.16,"v":1.42e-4},
{"s":"AER without primary aerosol","t":1993.35,"v":9.6e-5},
{"s":"AER without primary aerosol","t":1993.54,"v":9.3e-5},
{"s":"AER without primary aerosol","t":1993.74,"v":8.2e-5},
{"s":"AER without primary aerosol","t":1993.93,"v":6.4e-5},
{"s":"AER without primary aerosol","t":1994.12,"v":4.5e-5},
{"s":"AER without primary aerosol","t":1994.31,"v":2.95e-5},
{"s":"AER without primary aerosol","t":1994.5,"v":2.8e-5},
{"s":"AER without primary aerosol","t":1994.69,"v":3.05e-5},
{"s":"AER without primary aerosol","t":1994.93,"v":2.75e-5},
{"s":"AER without primary aerosol","t":1995.08,"v":2.0e-5},
{"s":"AER without primary aerosol","t":1995.27,"v":1.65e-5},
{"s":"AER without primary aerosol","t":1995.56,"v":1.68e-5},
{"s":"AER without primary aerosol","t":1995.94,"v":1.7e-5},
{"s":"AER without primary aerosol","t":1996.23,"v":1.66e-5},
{"s":"AER without primary aerosol","t":1996.52,"v":1.55e-5},
{"s":"AER without primary aerosol","t":1996.81,"v":1.62e-5},
{"s":"AER without primary aerosol","t":1997.09,"v":1.4e-5},
{"s":"AER without primary aerosol","t":1997.38,"v":1.5e-5},
{"s":"AER without primary aerosol","t":1997.77,"v":1.55e-5},
{"s":"AER without primary aerosol","t":1998.05,"v":1.6e-5},
{"s":"AER without primary aerosol","t":1998.44,"v":1.58e-5},
{"s":"AER without primary aerosol","t":1998.82,"v":1.7e-5},
{"s":"AER without primary aerosol","t":1999.01,"v":1.55e-5},
{"s":"AER without primary aerosol","t":1999.4,"v":1.58e-5},
{"s":"AER without primary aerosol","t":1999.69,"v":1.6e-5},
{"s":"AER without primary aerosol","t":1999.93,"v":1.85e-5},
{"s":"AER without primary aerosol","t":2000.17,"v":1.6e-5},
{"s":"AER without primary aerosol","t":2000.55,"v":1.6e-5},
{"s":"AER without primary aerosol","t":2000.89,"v":1.62e-5},
{"s":"UPMC","t":1991.0,"v":1.95e-5},
{"s":"UPMC","t":1991.24,"v":1.77e-5},
{"s":"UPMC","t":1991.43,"v":2.09e-5},
{"s":"UPMC","t":1991.58,"v":3.11e-5},
{"s":"UPMC","t":1991.72,"v":6.58e-4},
{"s":"UPMC","t":1991.82,"v":1.9e-3},
{"s":"UPMC","t":1991.96,"v":2.33e-3},
{"s":"UPMC","t":1992.15,"v":3.46e-3},
{"s":"UPMC","t":1992.3,"v":3.03e-3},
{"s":"UPMC","t":1992.58,"v":2.33e-3},
{"s":"UPMC","t":1992.78,"v":1.78e-3},
{"s":"UPMC","t":1992.92,"v":1.12e-3},
{"s":"UPMC","t":1993.02,"v":6.58e-4},
{"s":"UPMC","t":1993.16,"v":4.72e-4},
{"s":"UPMC","t":1993.45,"v":4.13e-4},
{"s":"UPMC","t":1993.64,"v":3.62e-4},
{"s":"UPMC","t":1993.83,"v":2.43e-4},
{"s":"UPMC","t":1993.98,"v":1.53e-4},
{"s":"UPMC","t":1994.12,"v":1.25e-4},
{"s":"UPMC","t":1994.41,"v":1.13e-4},
{"s":"UPMC","t":1994.69,"v":1.21e-4},
{"s":"UPMC","t":1994.84,"v":1.03e-4},
{"s":"UPMC","t":1994.93,"v":4.63e-5},
{"s":"UPMC","t":1995.08,"v":4.34e-5},
{"s":"UPMC","t":1995.37,"v":4.63e-5},
{"s":"UPMC","t":1995.61,"v":5.12e-5},
{"s":"UPMC","t":1995.8,"v":4.34e-5},
{"s":"UPMC","t":1995.89,"v":2.72e-5},
{"s":"UPMC","t":1996.23,"v":2.82e-5},
{"s":"UPMC","t":1996.52,"v":3.21e-5},
{"s":"UPMC","t":1996.76,"v":3.33e-5},
{"s":"UPMC","t":1996.85,"v":2.39e-5},
{"s":"UPMC","t":1997.09,"v":1.89e-5},
{"s":"UPMC","t":1997.29,"v":2.02e-5},
{"s":"UPMC","t":1997.57,"v":2.55e-5},
{"s":"UPMC","t":1997.77,"v":2.72e-5},
{"s":"UPMC","t":1997.86,"v":1.83e-5},
{"s":"UPMC","t":1998.15,"v":1.89e-5},
{"s":"UPMC","t":1998.34,"v":2.16e-5},
{"s":"UPMC","t":1998.63,"v":2.55e-5},
{"s":"UPMC","t":1998.82,"v":2.72e-5},
{"s":"UPMC","t":1998.92,"v":3.11e-5},
{"s":"AER with primary aerosol","t":1991.0,"v":1.89e-5},
{"s":"AER with primary aerosol","t":1991.24,"v":1.55e-5},
{"s":"AER with primary aerosol","t":1991.53,"v":1.71e-5},
{"s":"AER with primary aerosol","t":1991.62,"v":2.72e-5},
{"s":"AER with primary aerosol","t":1991.77,"v":1.75e-4},
{"s":"AER with primary aerosol","t":1991.86,"v":8.6e-4},
{"s":"AER with primary aerosol","t":1992.0,"v":1.7e-3},
{"s":"AER with primary aerosol","t":1992.15,"v":1.12e-3},
{"s":"AER with primary aerosol","t":1992.3,"v":7.5e-4},
{"s":"AER with primary aerosol","t":1992.49,"v":6.2e-4},
{"s":"AER with primary aerosol","t":1992.68,"v":4.4e-4},
{"s":"AER with primary aerosol","t":1992.87,"v":3.39e-4},
{"s":"AER with primary aerosol","t":1993.02,"v":2.27e-4},
{"s":"AER with primary aerosol","t":1993.16,"v":1.43e-4},
{"s":"AER with primary aerosol","t":1993.35,"v":9.6e-5},
{"s":"AER with primary aerosol","t":1993.54,"v":9.3e-5},
{"s":"AER with primary aerosol","t":1993.74,"v":7.9e-5},
{"s":"AER with primary aerosol","t":1993.93,"v":6.04e-5},
{"s":"AER with primary aerosol","t":1994.12,"v":4.34e-5},
{"s":"AER with primary aerosol","t":1994.31,"v":2.91e-5},
{"s":"AER with primary aerosol","t":1994.5,"v":2.82e-5},
{"s":"AER with primary aerosol","t":1994.69,"v":3.11e-5},
{"s":"AER with primary aerosol","t":1994.93,"v":2.82e-5},
{"s":"AER with primary aerosol","t":1995.08,"v":2.09e-5},
{"s":"AER with primary aerosol","t":1995.27,"v":1.77e-5},
{"s":"AER with primary aerosol","t":1995.56,"v":1.83e-5},
{"s":"AER with primary aerosol","t":1995.94,"v":1.89e-5},
{"s":"AER with primary aerosol","t":1996.23,"v":1.83e-5},
{"s":"AER with primary aerosol","t":1996.52,"v":1.71e-5},
{"s":"AER with primary aerosol","t":1996.81,"v":1.83e-5},
{"s":"AER with primary aerosol","t":1997.09,"v":1.55e-5},
{"s":"AER with primary aerosol","t":1997.38,"v":1.71e-5},
{"s":"AER with primary aerosol","t":1997.77,"v":1.77e-5},
{"s":"AER with primary aerosol","t":1998.05,"v":1.89e-5},
{"s":"AER with primary aerosol","t":1998.44,"v":1.83e-5},
{"s":"AER with primary aerosol","t":1998.82,"v":2.02e-5},
{"s":"AER with primary aerosol","t":1999.01,"v":1.71e-5},
{"s":"AER with primary aerosol","t":1999.4,"v":1.77e-5},
{"s":"AER with primary aerosol","t":1999.69,"v":1.83e-5},
{"s":"AER with primary aerosol","t":1999.93,"v":2.16e-5},
{"s":"AER with primary aerosol","t":2000.17,"v":1.83e-5},
{"s":"AER with primary aerosol","t":2000.55,"v":1.83e-5},
{"s":"AER with primary aerosol","t":2000.89,"v":1.83e-5},
{"s":"ULAQ","t":1991.0,"v":2.91e-5},
{"s":"ULAQ","t":1991.19,"v":2.64e-5},
{"s":"ULAQ","t":1991.43,"v":2.64e-5},
{"s":"ULAQ","t":1991.53,"v":3.33e-5},
{"s":"ULAQ","t":1991.67,"v":3.39e-4},
{"s":"ULAQ","t":1991.77,"v":2.48e-3},
{"s":"ULAQ","t":1991.86,"v":4.82e-3},
{"s":"ULAQ","t":1991.96,"v":5.4e-3},
{"s":"ULAQ","t":1992.1,"v":4.22e-3},
{"s":"ULAQ","t":1992.3,"v":3.03e-3},
{"s":"ULAQ","t":1992.58,"v":2.33e-3},
{"s":"ULAQ","t":1992.78,"v":1.78e-3},
{"s":"ULAQ","t":1992.97,"v":1.12e-3},
{"s":"ULAQ","t":1993.11,"v":5.76e-4},
{"s":"ULAQ","t":1993.21,"v":4.72e-4},
{"s":"ULAQ","t":1993.45,"v":4.27e-4},
{"s":"ULAQ","t":1993.64,"v":3.74e-4},
{"s":"ULAQ","t":1993.83,"v":2.78e-4},
{"s":"ULAQ","t":1994.02,"v":1.87e-4},
{"s":"ULAQ","t":1994.21,"v":1.43e-4},
{"s":"ULAQ","t":1994.5,"v":1.34e-4},
{"s":"ULAQ","t":1994.79,"v":1.25e-4},
{"s":"ULAQ","t":1994.98,"v":1.03e-4},
{"s":"ULAQ","t":1995.17,"v":6.9e-5},
{"s":"ULAQ","t":1995.37,"v":6.46e-5},
{"s":"ULAQ","t":1995.65,"v":6.25e-5},
{"s":"ULAQ","t":1995.89,"v":5.84e-5},
{"s":"ULAQ","t":1996.04,"v":4.95e-5},
{"s":"ULAQ","t":1996.23,"v":4.2e-5},
{"s":"ULAQ","t":1996.52,"v":3.93e-5},
{"s":"ULAQ","t":1996.71,"v":3.93e-5},
{"s":"ULAQ","t":1996.85,"v":4.34e-5},
{"s":"ULAQ","t":1997.0,"v":3.93e-5},
{"s":"ULAQ","t":1997.19,"v":3.11e-5},
{"s":"ULAQ","t":1997.48,"v":3.15e-5},
{"s":"ULAQ","t":1997.67,"v":3.43e-5},
{"s":"ULAQ","t":1997.86,"v":3.8e-5},
{"s":"ULAQ","t":1998.05,"v":2.82e-5},
{"s":"ULAQ","t":1998.34,"v":2.91e-5},
{"s":"ULAQ","t":1998.63,"v":3.11e-5},
{"s":"ULAQ","t":1998.82,"v":3.43e-5},
{"s":"ULAQ","t":1998.97,"v":3.55e-5}
]
},
"vconcat": [
{
"width": 551, "height": 403,
"title": {"text": "1.02 μm Extinction, 45°N, 20 km"},
"resolve": {"axis": {"x": "independent", "y": "independent"}},
"layer": [
{"data": {"name": "m20"}, "mark": {"type": "line", "strokeWidth": 3, "clip": true},
 "encoding": {
  "x": {"field": "t", "type": "quantitative", "scale": {"domain": [1991, 2003], "nice": false, "zero": false},
        "axis": {"orient": "bottom", "values": [1991,1992,1993,1994,1995,1996,1997,1998,1999,2000,2001,2002,2003], "labelExpr": "datum.value % 2 == 1 ? format(datum.value, 'd') : ''", "tickSize": -9, "labelPadding": 19, "labelFontSize": 20, "title": "Year", "titleFontSize": 18, "titlePadding": 2}},
  "y": {"field": "v", "type": "quantitative", "scale": {"type": "log", "domain": [3e-5, 0.03], "nice": false},
        "axis": {"orient": "left", "values": [4e-5,5e-5,6e-5,7e-5,8e-5,9e-5,1e-4,2e-4,3e-4,4e-4,5e-4,6e-4,7e-4,8e-4,9e-4,0.001,0.002,0.003,0.004,0.005,0.006,0.007,0.008,0.009,0.01,0.02],
                 "labelExpr": "datum.value == 0.01 ? '0.01' : datum.value == 0.001 ? '10⁻³' : datum.value == 0.0001 ? '10⁻⁴' : datum.value == 0.00001 ? '10⁻⁵' : ''",
                 "tickSize": 0, "labelPadding": 10, "labelFontSize": 19, "title": "Extinction (km⁻¹)", "titleFontSize": 26, "titlePadding": -3,
                 "encode": {"ticks": {"x2": {"value": {"expr": "indexof([0.01,0.001,0.0001,0.00001], datum.value) >= 0 ? 11 : 6"}}}}}},
  "color": {"field": "s", "type": "nominal",
            "scale": {"domain": ["ULAQ","AER with primary aerosol","AER without primary aerosol","UPMC"], "range": ["#e8191f","#1f1fd6","#1fcf1f","#1fd8d8"]},
            "legend": {"orient": "none", "legendX": 182, "legendY": 56, "title": null, "padding": 0, "symbolType": "M-3,0H3", "symbolSize": 361, "symbolStrokeWidth": 3, "labelFont": "DejaVu Serif", "labelFontSize": 20, "labelColor": "#222", "labelOffset": 29, "labelLimit": 400, "rowPadding": 3}}
 }},
{"data": {"name": "s20"}, "mark": {"type": "rule", "color": "#555555", "strokeWidth": 1.6, "clip": true},
 "encoding": {
  "x": {"field": "t", "type": "quantitative", "scale": {"domain": [1991, 2003], "nice": false, "zero": false},
        "axis": {"orient": "top", "values": [1991,1992,1993,1994,1995,1996,1997,1998,1999,2000,2001,2002,2003], "labels": false, "tickSize": -9, "title": null}},
  "y": {"field": "lo", "type": "quantitative", "scale": {"type": "log", "domain": [3e-5, 0.03], "nice": false},
        "axis": {"orient": "right", "values": [4e-5,5e-5,6e-5,7e-5,8e-5,9e-5,1e-4,2e-4,3e-4,4e-4,5e-4,6e-4,7e-4,8e-4,9e-4,0.001,0.002,0.003,0.004,0.005,0.006,0.007,0.008,0.009,0.01,0.02], "labels": false, "title": null, "tickSize": 0,
                 "encode": {"ticks": {"x2": {"value": {"expr": "indexof([0.01,0.001,0.0001,0.00001], datum.value) >= 0 ? -11 : -6"}}}}}},
  "y2": {"field": "hi"}
 }},
{"data": {"name": "s20"}, "mark": {"type": "point", "filled": true, "size": 40, "opacity": 1, "color": "#000000"},
 "encoding": {
  "x": {"field": "t", "type": "quantitative", "scale": {"domain": [1991, 2003], "nice": false, "zero": false}, "axis": null},
  "y": {"field": "v", "type": "quantitative", "scale": {"type": "log", "domain": [3e-5, 0.03], "nice": false}, "axis": null},
  "shape": {"field": "s", "type": "nominal", "scale": {"domain": ["SAGE II"], "range": ["circle"]},
            "legend": {"orient": "none", "legendX": 183, "legendY": 30, "title": null, "padding": 0, "symbolSize": 50, "symbolFillColor": "#000000", "symbolStrokeColor": "#000000", "labelFont": "DejaVu Serif", "labelFontSize": 20, "labelColor": "#222", "labelOffset": 30, "labelLimit": 400}}
 }}
]
},
{
"width": 551, "height": 402,
"title": {"text": "1.02 μm Extinction, 45°N, 26 km"},
"resolve": {"axis": {"x": "independent", "y": "independent"}},
"layer": [
{"data": {"name": "m26"}, "mark": {"type": "line", "strokeWidth": 3, "clip": true},
 "encoding": {
  "x": {"field": "t", "type": "quantitative", "scale": {"domain": [1991, 2003], "nice": false, "zero": false},
        "axis": {"orient": "bottom", "values": [1991,1992,1993,1994,1995,1996,1997,1998,1999,2000,2001,2002,2003], "labelExpr": "datum.value % 2 == 1 ? format(datum.value, 'd') : ''", "tickSize": -9, "labelPadding": 19, "labelFontSize": 20, "title": "Year", "titleFontSize": 18, "titlePadding": 1}},
  "y": {"field": "v", "type": "quantitative", "scale": {"type": "log", "domain": [3.3e-6, 0.01], "nice": false},
        "axis": {"orient": "left", "values": [4e-6,5e-6,6e-6,7e-6,8e-6,9e-6,1e-5,2e-5,3e-5,4e-5,5e-5,6e-5,7e-5,8e-5,9e-5,1e-4,2e-4,3e-4,4e-4,5e-4,6e-4,7e-4,8e-4,9e-4,0.001,0.002,0.003,0.004,0.005,0.006,0.007,0.008,0.009,0.01],
                 "labelExpr": "datum.value == 0.01 ? '0.01' : datum.value == 0.001 ? '10⁻³' : datum.value == 0.0001 ? '10⁻⁴' : datum.value == 0.00001 ? '10⁻⁵' : ''",
                 "tickSize": 0, "labelPadding": 10, "labelFontSize": 19, "title": "Extinction (km⁻¹)", "titleFontSize": 26, "titlePadding": -3,
                 "encode": {"ticks": {"x2": {"value": {"expr": "indexof([0.01,0.001,0.0001,0.00001], datum.value) >= 0 ? 11 : 6"}}}}}},
  "color": {"field": "s", "type": "nominal",
            "scale": {"domain": ["ULAQ","AER with primary aerosol","AER without primary aerosol","UPMC"], "range": ["#e8191f","#1f1fd6","#1fcf1f","#1fd8d8"]},
            "legend": {"orient": "none", "legendX": 182, "legendY": 54, "title": null, "padding": 0, "symbolType": "M-3,0H3", "symbolSize": 361, "symbolStrokeWidth": 3, "labelFont": "DejaVu Serif", "labelFontSize": 20, "labelColor": "#222", "labelOffset": 29, "labelLimit": 400, "rowPadding": 3}}
 }},
{"data": {"name": "s26"}, "mark": {"type": "rule", "color": "#555555", "strokeWidth": 1.6, "clip": true},
 "encoding": {
  "x": {"field": "t", "type": "quantitative", "scale": {"domain": [1991, 2003], "nice": false, "zero": false},
        "axis": {"orient": "top", "values": [1991,1992,1993,1994,1995,1996,1997,1998,1999,2000,2001,2002,2003], "labels": false, "tickSize": -9, "title": null}},
  "y": {"field": "lo", "type": "quantitative", "scale": {"type": "log", "domain": [3.3e-6, 0.01], "nice": false},
        "axis": {"orient": "right", "values": [4e-6,5e-6,6e-6,7e-6,8e-6,9e-6,1e-5,2e-5,3e-5,4e-5,5e-5,6e-5,7e-5,8e-5,9e-5,1e-4,2e-4,3e-4,4e-4,5e-4,6e-4,7e-4,8e-4,9e-4,0.001,0.002,0.003,0.004,0.005,0.006,0.007,0.008,0.009,0.01], "labels": false, "title": null, "tickSize": 0,
                 "encode": {"ticks": {"x2": {"value": {"expr": "indexof([0.01,0.001,0.0001,0.00001], datum.value) >= 0 ? -11 : -6"}}}}}},
  "y2": {"field": "hi"}
 }},
{"data": {"name": "s26"}, "mark": {"type": "point", "filled": true, "size": 40, "opacity": 1, "color": "#000000"},
 "encoding": {
  "x": {"field": "t", "type": "quantitative", "scale": {"domain": [1991, 2003], "nice": false, "zero": false}, "axis": null},
  "y": {"field": "v", "type": "quantitative", "scale": {"type": "log", "domain": [3.3e-6, 0.01], "nice": false}, "axis": null},
  "shape": {"field": "s", "type": "nominal", "scale": {"domain": ["SAGE II"], "range": ["circle"]},
            "legend": {"orient": "none", "legendX": 183, "legendY": 31, "title": null, "padding": 0, "symbolSize": 50, "symbolFillColor": "#000000", "symbolStrokeColor": "#000000", "labelFont": "DejaVu Serif", "labelFontSize": 20, "labelColor": "#222", "labelOffset": 30, "labelLimit": 400}}
 }}
]
}
],
"resolve": {"scale": {"x": "independent", "y": "independent", "color": "independent", "shape": "independent"}, "axis": {"x": "independent", "y": "independent"}, "legend": {"color": "independent", "shape": "independent"}},
"config": {
 "view": {"stroke": null},
 "font": "DejaVu Sans",
 "axis": {"grid": false, "domainColor": "#555555", "domainWidth": 2, "tickColor": "#555555", "tickWidth": 1.5, "labelColor": "#222222", "labelFont": "DejaVu Sans", "titleFont": "DejaVu Sans", "titleColor": "#555555", "titleFontWeight": "normal", "labelOverlap": false, "labelFlush": false, "labelBound": false},
 "title": {"font": "DejaVu Sans", "fontSize": 28, "fontWeight": "normal", "color": "#555555", "offset": 11, "anchor": "middle", "frame": "group"}
}
}
